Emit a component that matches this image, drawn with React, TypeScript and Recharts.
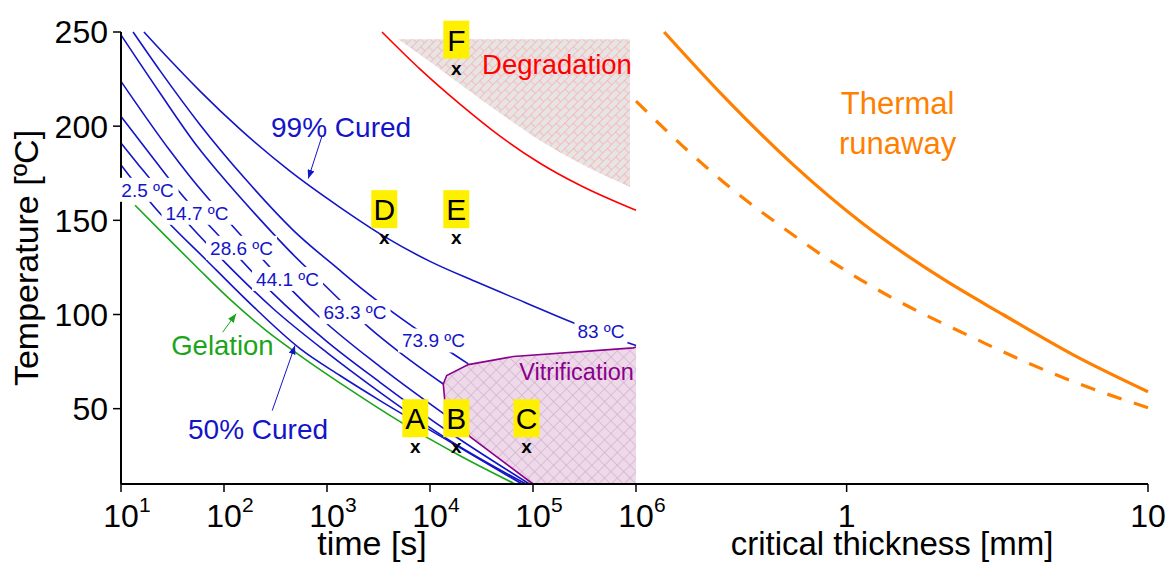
import React from 'react';
import { ComposedChart, Line, Area, Scatter, XAxis, YAxis, ReferenceLine } from 'recharts';

const FONT = '"Liberation Sans", Arial, Helvetica, sans-serif';
const BLUE = '#1414c8';
const GREEN = '#1aa51a';
const RED = '#ff0000';
const PURPLE = '#8c008c';
const ORANGE = '#ff8000';

// ---- left panel: time [s] vs temperature [ºC]
const gelation = [
  { t: 13.7, T: 158.0 }, { t: 26.7, T: 142.0 }, { t: 54.3, T: 125.2 }, { t: 114.4, T: 108.0 },
  { t: 250, T: 92.0 }, { t: 547, T: 78.2 }, { t: 1673, T: 60.1 }, { t: 5114, T: 43.1 },
  { t: 19560, T: 25.0 }, { t: 66900, T: 10 },
];
const cured50 = [
  { t: 10, T: 179.4 }, { t: 22.9, T: 154.8 }, { t: 67.9, T: 128.7 }, { t: 178.8, T: 105.9 },
  { t: 547, T: 81.9 }, { t: 1337, T: 67.6 }, { t: 3270, T: 54.3 }, { t: 15640, T: 32.4 },
  { t: 78200, T: 10 },
];
const cure147 = [
  { t: 10, T: 191.0 }, { t: 15.3, T: 178.5 }, { t: 35.8, T: 154.3 }, { t: 102.2, T: 127.7 },
  { t: 299, T: 103.2 }, { t: 1000, T: 79.8 }, { t: 3270, T: 58.7 }, { t: 15640, T: 33.0 },
  { t: 85500, T: 10 },
];
const cure286 = [
  { t: 10, T: 205.2 }, { t: 17.9, T: 187.2 }, { t: 35.8, T: 166.0 }, { t: 102.2, T: 138.3 },
  { t: 299, T: 111.2 }, { t: 1000, T: 85.6 }, { t: 3270, T: 64.0 }, { t: 15640, T: 37.2 },
  { t: 92500, T: 10 },
];
const cure441 = [
  { t: 10, T: 223.8 }, { t: 29.7, T: 187.2 }, { t: 46.5, T: 173.4 }, { t: 143, T: 142.6 },
  { t: 489, T: 111.2 }, { t: 794, T: 100.0 }, { t: 3270, T: 72.3 }, { t: 20470, T: 40.4 },
];
const cure633 = [
  { t: 10, T: 248.4 }, { t: 23.9, T: 217.6 }, { t: 55.9, T: 188.8 }, { t: 93.5, T: 173.9 },
  { t: 223.7, T: 150.5 }, { t: 437, T: 133.5 }, { t: 956, T: 115.4 }, { t: 2500, T: 93.6 },
  { t: 5114, T: 79.8 }, { t: 13460, T: 63.1 },
];
const cure739 = [
  { t: 13.1, T: 250 }, { t: 23.9, T: 229.5 }, { t: 58.5, T: 200.8 }, { t: 159, T: 172.3 },
  { t: 471, T: 144.7 }, { t: 1337, T: 123.4 }, { t: 2250, T: 113.1 }, { t: 10690, T: 86.2 },
  { t: 23550, T: 73.8 },
];
const cured99 = [
  { t: 16.7, T: 250 }, { t: 29.9, T: 235.1 }, { t: 58.5, T: 218.6 }, { t: 143, T: 198.4 },
  { t: 437, T: 176.1 }, { t: 1337, T: 156.9 }, { t: 3657, T: 141.2 }, { t: 10000, T: 128.2 },
  { t: 27350, T: 117.6 }, { t: 83600, T: 106.4 }, { t: 239000, T: 95.9 }, { t: 1000000, T: 83.5 },
];
const degradation = [
  { t: 3420, T: 250 }, { t: 8000, T: 230.3 }, { t: 19550, T: 211.7 }, { t: 47860, T: 194.7 },
  { t: 117000, T: 180.3 }, { t: 285800, T: 168.6 }, { t: 1000000, T: 155.3 },
];
const degradationZone = [
  { t: 4920, r: [246.1, 246.1] }, { t: 10690, r: [233.0, 246.1] }, { t: 22700, r: [219.7, 246.1] },
  { t: 47860, r: [206.9, 246.1] }, { t: 100700, r: [194.7, 246.1] }, { t: 285800, r: [180.3, 246.1] },
  { t: 875000, r: [167.7, 246.1] },
];
const vitrificationZone = [
  { t: 13460, r: [63.1, 63.1] }, { t: 14000, r: [52.7, 65.5] }, { t: 14520, r: [51.5, 67.6] },
  { t: 23550, r: [36.3, 73.4] }, { t: 24430, r: [35.1, 73.5] }, { t: 64400, r: [17.8, 77.7] },
  { t: 100000, r: [10, 78.5] }, { t: 942000, r: [10, 82.3] }, { t: 1000000, r: [10, 82.7] },
];
const vitrificationEdge = [
  { t: 1000000, T: 82.7 }, { t: 942000, T: 82.3 }, { t: 64400, T: 77.7 }, { t: 23550, T: 73.4 },
  { t: 14520, T: 67.6 }, { t: 13460, T: 63.1 }, { t: 14000, T: 52.7 }, { t: 24430, T: 35.1 },
  { t: 100000, T: 10 },
];
const samples = [
  { t: 7200, T: 29, name: 'A' }, { t: 18000, T: 29, name: 'B' }, { t: 86400, T: 29, name: 'C' },
  { t: 3600, T: 140, name: 'D' }, { t: 18000, T: 140, name: 'E' }, { t: 18000, T: 230, name: 'F' },
];
const tgLabels = [
  { t: 18.1, T: 166.2, text: '2.5 ºC' }, { t: 54.7, T: 154.0, text: '14.7 ºC' },
  { t: 148, T: 135.4, text: '28.6 ºC' }, { t: 414, T: 118.9, text: '44.1 ºC' },
  { t: 1870, T: 101.3, text: '63.3 ºC' }, { t: 10800, T: 86.2, text: '73.9 ºC' },
  { t: 457000, T: 91.0, text: '83 ºC' },
];
const cureNotes = [{ t: 1370, T: 199.5, text: '99% Cured' }, { t: 214, T: 39.4, text: '50% Cured' }];
const gelNote = [{ t: 96.6, T: 83.5, text: 'Gelation' }];
const degNote = [{ t: 171000, T: 233, text: 'Degradation' }];
const vitNote = [{ t: 265000, T: 69.7, text: 'Vitrification' }];
const cureArrows = [
  [{ x: 889, y: 194.3 }, { x: 658, y: 172.2 }],
  [{ x: 294, y: 49 }, { x: 489, y: 83.5 }],
];
const gelArrow = [{ x: 97, y: 90.6 }, { x: 131, y: 100.4 }];

const timeTicks = [10, 100, 1000, 10000, 100000, 1000000];
const timeMinor = timeTicks.slice(0, -1).flatMap((d) => [2, 3, 4, 5, 6, 7, 8, 9].map((k) => k * d));
const tempTicks = [50, 100, 150, 200, 250];
const tempMinor = [25, 75, 125, 175, 225];

// ---- right panel: critical thickness [mm] vs temperature [ºC]
const runaway = [
  { d: 0.248, T: 250 }, { d: 0.393, T: 215.4 }, { d: 0.667, T: 179.3 }, { d: 1.139, T: 147.9 },
  { d: 2.1, T: 118.6 }, { d: 3.3, T: 100.0 }, { d: 5.63, T: 78.7 }, { d: 10, T: 59 },
];
const runawayDashed = [
  { d: 0.2, T: 213.3 }, { d: 0.296, T: 187.2 }, { d: 0.421, T: 166.0 }, { d: 0.613, T: 146.3 },
  { d: 0.899, T: 127.7 }, { d: 1.411, T: 109.0 }, { d: 2.54, T: 88.8 }, { d: 3.9, T: 75.0 },
  { d: 5.99, T: 62.8 }, { d: 10, T: 50.5 },
];
const runawayNote = [{ d: 1.476, T: 212.2, text: 'Thermal' }, { d: 1.476, T: 191, text: 'runaway' }];
const thickTicks = [1, 10];
const thickMinor = [0.3, 0.4, 0.5, 0.6, 0.7, 0.8, 0.9, 2, 3, 4, 5, 6, 7, 8, 9];

const axisLine = { stroke: '#000', strokeWidth: 2 };
const tickLine = { stroke: '#000', strokeWidth: 1.5 };

const PowerTick = ({ x, y, payload }: any) => {
  const exp = Math.round(Math.log10(payload.value));
  return (
    <g fontFamily={FONT} fill="#000">
      <text x={x} y={y + 33} textAnchor="middle" fontSize={32}>10</text>
      <text x={x + 18} y={y + 18} fontSize={21}>{exp}</text>
    </g>
  );
};

const PlainTick = ({ x, y, payload }: any) => (
  <text x={x} y={y + 33} textAnchor="middle" fontSize={32} fontFamily={FONT} fill="#000">
    {payload.value}
  </text>
);

const SampleMark = ({ cx, cy, payload }: any) => (
  <g fontFamily={FONT}>
    <rect x={cx - 13} y={cy - 49} width={26} height={38} fill="#fff000" />
    <text x={cx} y={cy - 19} textAnchor="middle" fontSize={30} fill="#000">{payload.name}</text>
    <text x={cx} y={cy + 5} textAnchor="middle" fontSize={19} fontWeight="bold" fill="#000">x</text>
  </g>
);

const TgLabel = ({ cx, cy, payload }: any) => {
  const w = payload.text.length * 9 + 8;
  return (
    <g>
      <rect x={cx - w / 2} y={cy - 12} width={w} height={24} fill="#fff" />
      <text x={cx} y={cy + 7} textAnchor="middle" fontSize={19} fill={BLUE} fontFamily={FONT}>
        {payload.text}
      </text>
    </g>
  );
};

const note = (color: string, size: number) => ({ cx, cy, payload }: any) => (
  <text x={cx} y={cy + size * 0.36} textAnchor="middle" fontSize={size} fill={color} fontFamily={FONT}>
    {payload.text}
  </text>
);

const arrow = (id: string, color: string) => (p: any) => (
  <line x1={p.x1} y1={p.y1} x2={p.x2} y2={p.y2} stroke={color} strokeWidth={1} markerEnd={`url(#${id})`} />
);

const curve = (data: any[], color: string) => (
  <Line data={data} dataKey="T" type="monotone" stroke={color} strokeWidth={1.6} dot={false}
    activeDot={false} isAnimationActive={false} />
);

export default function App() {
  return (
    <div style={{ position: 'absolute', left: 0, top: 0, width: 1166, height: 566, background: '#fff', fontFamily: FONT }}>
      <div style={{ position: 'absolute', left: 0, top: 0 }}>
        <ComposedChart width={690} height={566} margin={{ top: 32, right: 54, bottom: 0, left: 0 }}>
          <defs>
            <pattern id="degHatch" width="12" height="12" patternUnits="userSpaceOnUse" patternTransform="rotate(-45)">
              <rect width="12" height="12" fill="#d4d4d4" />
              <path d="M0 0.5 H12 M6 0 V6 M0 6.5 H12 M0.5 6 V12" stroke="#ff7070" strokeWidth="0.7" fill="none" />
            </pattern>
            <pattern id="vitHatch" width="9" height="9" patternUnits="userSpaceOnUse" patternTransform="rotate(45)">
              <rect width="9" height="9" fill="#e2bfdb" />
              <path d="M0 0.5 H9 M0.5 0 V9" stroke="#b47aaf" strokeWidth="0.7" fill="none" />
            </pattern>
            <marker id="arrowBlue" viewBox="0 0 10 8" refX="10" refY="4" markerWidth="9" markerHeight="7" orient="auto">
              <path d="M0 0 L10 4 L0 8 z" fill={BLUE} />
            </marker>
            <marker id="arrowGreen" viewBox="0 0 10 8" refX="10" refY="4" markerWidth="9" markerHeight="7" orient="auto">
              <path d="M0 0 L10 4 L0 8 z" fill={GREEN} />
            </marker>
          </defs>

          <XAxis xAxisId="minor" dataKey="t" type="number" scale="log" domain={[10, 1000000]}
            ticks={timeMinor} tick={false} tickSize={4} tickLine={tickLine} axisLine={false} height={0} />
          <XAxis dataKey="t" type="number" scale="log" domain={[10, 1000000]}
            ticks={timeTicks} tick={<PowerTick />} tickSize={8} tickLine={tickLine} axisLine={axisLine} height={82} />
          <XAxis xAxisId="top" orientation="top" mirror dataKey="t" type="number" scale="log" domain={[10, 1000000]}
            ticks={timeTicks} tick={false} tickSize={8} tickLine={tickLine} axisLine={axisLine} height={0} />
          <XAxis xAxisId="topMinor" orientation="top" mirror dataKey="t" type="number" scale="log" domain={[10, 1000000]}
            ticks={timeMinor} tick={false} tickSize={4} tickLine={tickLine} axisLine={false} height={0} />
          <YAxis yAxisId="minor" type="number" domain={[10, 250]} ticks={tempMinor} tick={false}
            tickSize={4} tickLine={tickLine} axisLine={false} width={0} />
          <YAxis type="number" domain={[10, 250]} ticks={tempTicks} tickSize={8} tickMargin={5}
            tickLine={tickLine} axisLine={axisLine} width={121}
            tick={{ fontSize: 32, fill: '#000', fontFamily: FONT }} />
          <YAxis yAxisId="frame" orientation="right" type="number" domain={[10, 250]} tick={false} tickLine={false}
            axisLine={axisLine} width={0} />

          <Area data={degradationZone} dataKey="r" type="monotone" stroke="none" fill="url(#degHatch)"
            dot={false} activeDot={false} isAnimationActive={false} />
          <Area data={vitrificationZone} dataKey="r" type="linear" stroke="none" fill="url(#vitHatch)"
            dot={false} activeDot={false} isAnimationActive={false} />

          {curve(gelation, GREEN)}
          {curve(cured50, BLUE)}
          {curve(cure147, BLUE)}
          {curve(cure286, BLUE)}
          {curve(cure441, BLUE)}
          {curve(cure633, BLUE)}
          {curve(cure739, BLUE)}
          {curve(cured99, BLUE)}
          {curve(degradation, RED)}
          <Line data={vitrificationEdge} dataKey="T" type="linear" stroke={PURPLE} strokeWidth={1.6} dot={false}
            activeDot={false} isAnimationActive={false} />

          {cureArrows.map((seg, i) => (
            <ReferenceLine key={i} segment={seg} shape={arrow('arrowBlue', BLUE)} />
          ))}
          <ReferenceLine segment={gelArrow} shape={arrow('arrowGreen', GREEN)} />

          <Scatter data={tgLabels} dataKey="T" shape={<TgLabel />} isAnimationActive={false} />
          <Scatter data={cureNotes} dataKey="T" shape={note(BLUE, 28)} isAnimationActive={false} />
          <Scatter data={gelNote} dataKey="T" shape={note(GREEN, 27.5)} isAnimationActive={false} />
          <Scatter data={degNote} dataKey="T" shape={note(RED, 27.5)} isAnimationActive={false} />
          <Scatter data={vitNote} dataKey="T" shape={note(PURPLE, 23.5)} isAnimationActive={false} />
          <Scatter data={samples} dataKey="T" shape={<SampleMark />} isAnimationActive={false} />

          <text x={38} y={258} transform="rotate(-90, 38, 258)" textAnchor="middle" fontSize={34}
            fontFamily={FONT} fill="#000">Temperature [ºC]</text>
          <text x={372} y={555} textAnchor="middle" fontSize={34} fontFamily={FONT} fill="#000">time [s]</text>
        </ComposedChart>
      </div>

      <div style={{ position: 'absolute', left: 600, top: 0 }}>
        <ComposedChart width={566} height={566} margin={{ top: 32, right: 18, bottom: 0, left: 36 }}>
          <XAxis xAxisId="minor" dataKey="d" type="number" scale="log" domain={[0.2, 10]}
            ticks={thickMinor} tick={false} tickSize={4} tickLine={tickLine} axisLine={false} height={0} />
          <XAxis dataKey="d" type="number" scale="log" domain={[0.2, 10]}
            ticks={thickTicks} tick={<PlainTick />} tickSize={8} tickLine={tickLine} axisLine={axisLine} height={82} />
          <XAxis xAxisId="top" orientation="top" dataKey="d" type="number" scale="log" domain={[0.2, 10]}
            tick={false} tickLine={false} axisLine={axisLine} height={0} />
          <YAxis type="number" domain={[10, 250]} tick={false} tickLine={false}
            axisLine={axisLine} width={0} />
          <YAxis yAxisId="frame" orientation="right" type="number" domain={[10, 250]} tick={false} tickLine={false}
            axisLine={axisLine} width={0} />

          <Line data={runaway} dataKey="T" type="monotone" stroke={ORANGE} strokeWidth={3.2} dot={false}
            activeDot={false} isAnimationActive={false} />
          <Line data={runawayDashed} dataKey="T" type="monotone" stroke={ORANGE} strokeWidth={3.2}
            strokeDasharray="15 13" dot={false} activeDot={false} isAnimationActive={false} />
          <Scatter data={runawayNote} dataKey="T" shape={note(ORANGE, 31)} isAnimationActive={false} />

          <text x={292} y={555} textAnchor="middle" fontSize={33} fontFamily={FONT} fill="#000">
            critical thickness [mm]
          </text>
        </ComposedChart>
      </div>
    </div>
  );
}
